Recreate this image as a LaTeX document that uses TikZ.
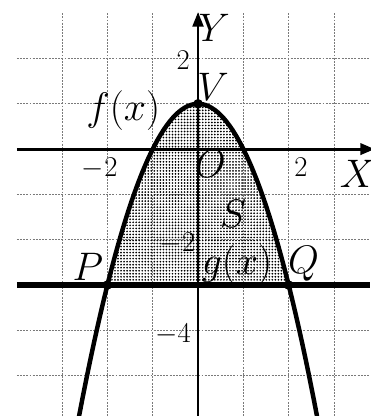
\RequirePackage{fix-cm}
\documentclass[tikz,border=0pt]{standalone}
\usepackage{amsmath}
\usetikzlibrary{arrows.meta, patterns.meta}
\definecolor{gridcolor}{HTML}{7A7A7A}

\begin{document}
\begin{tikzpicture}[
    big/.style={font=\fontsize{25}{30}\selectfont, inner sep=1pt},
    num/.style={font=\fontsize{18}{22}\selectfont, inner sep=1pt},
    gridline/.style={gridcolor, line width=0.5pt, dash pattern=on 1.2pt off 0.8pt},
    curve/.style={line width=2.8pt},
    axis/.style={-{Triangle[length=9pt, width=7pt]}},
    pt/.style={circle, fill=black, inner sep=0pt, minimum size=6pt},
]
\useasboundingbox (-4.37,-5.89) rectangle (3.80,3.29);

% ================================================ grid
\foreach \x in {-3,...,3}{
    \draw[gridline] (\x, 3) -- (\x, -5.89);
}
\foreach \y in {-5,...,2}{
    \draw[gridline] (-4, \y) -- (3.80, \y);
}

% ================================================ area S
\fill[pattern={Dots[distance=1.9pt, radius=0.6pt]}]
    plot[domain=-2:2, samples=60] (\x, {1-\x*\x}) -- cycle;

% ================================================ axes
\draw[axis, line width=1.9pt] (-4, 0) -- (3.90, 0);
\draw[axis, line width=1pt] (0, -5.89) -- (0, 3.02);

% ================================================ f and g
\draw[curve] plot[domain=-2.63:2.63, samples=80] (\x, {1-\x*\x});
\draw[curve, line width=3.2pt] (-4, -3) -- (3.80, -3);

\node[pt] (V) at (0, 1) {};
\node[pt] (P) at (-2, -3) {};
\node[pt] (Q) at (2, -3) {};

% ================================================ labels
\node[big] (lY) at (0.36, 2.68) {$Y$};
\node[big] (lX) at (3.52, -0.55) {$X$};
\node[big] (lO) at (0.27, -0.33) {$O$};
\node[big] (lV) at (0.33, 1.38) {$V$};
\node[big] (lf) at (-1.65, 0.86) {$f(x)$};
\node[big] (lS) at (0.77, -1.42) {$S$};
\node[big] (lg) at (0.86, -2.55) {$g(x)$};
\node[big] (lP) at (-2.43, -2.61) {$P$};
\node[big] (lQ) at (2.33, -2.53) {$Q$};

\node[num] (x2) at (2.27, -0.40) {$2$};
\node[num] (xm2) at (-2.17, -0.42) {$-2$};
\node[num] (y2) at (-0.33, 1.97) {$2$};
\node[num] (ym2) at (-0.45, -2.08) {$-2$};
\node[num] (ym4) at (-0.55, -4.08) {$-4$};

\end{tikzpicture}
\end{document}
